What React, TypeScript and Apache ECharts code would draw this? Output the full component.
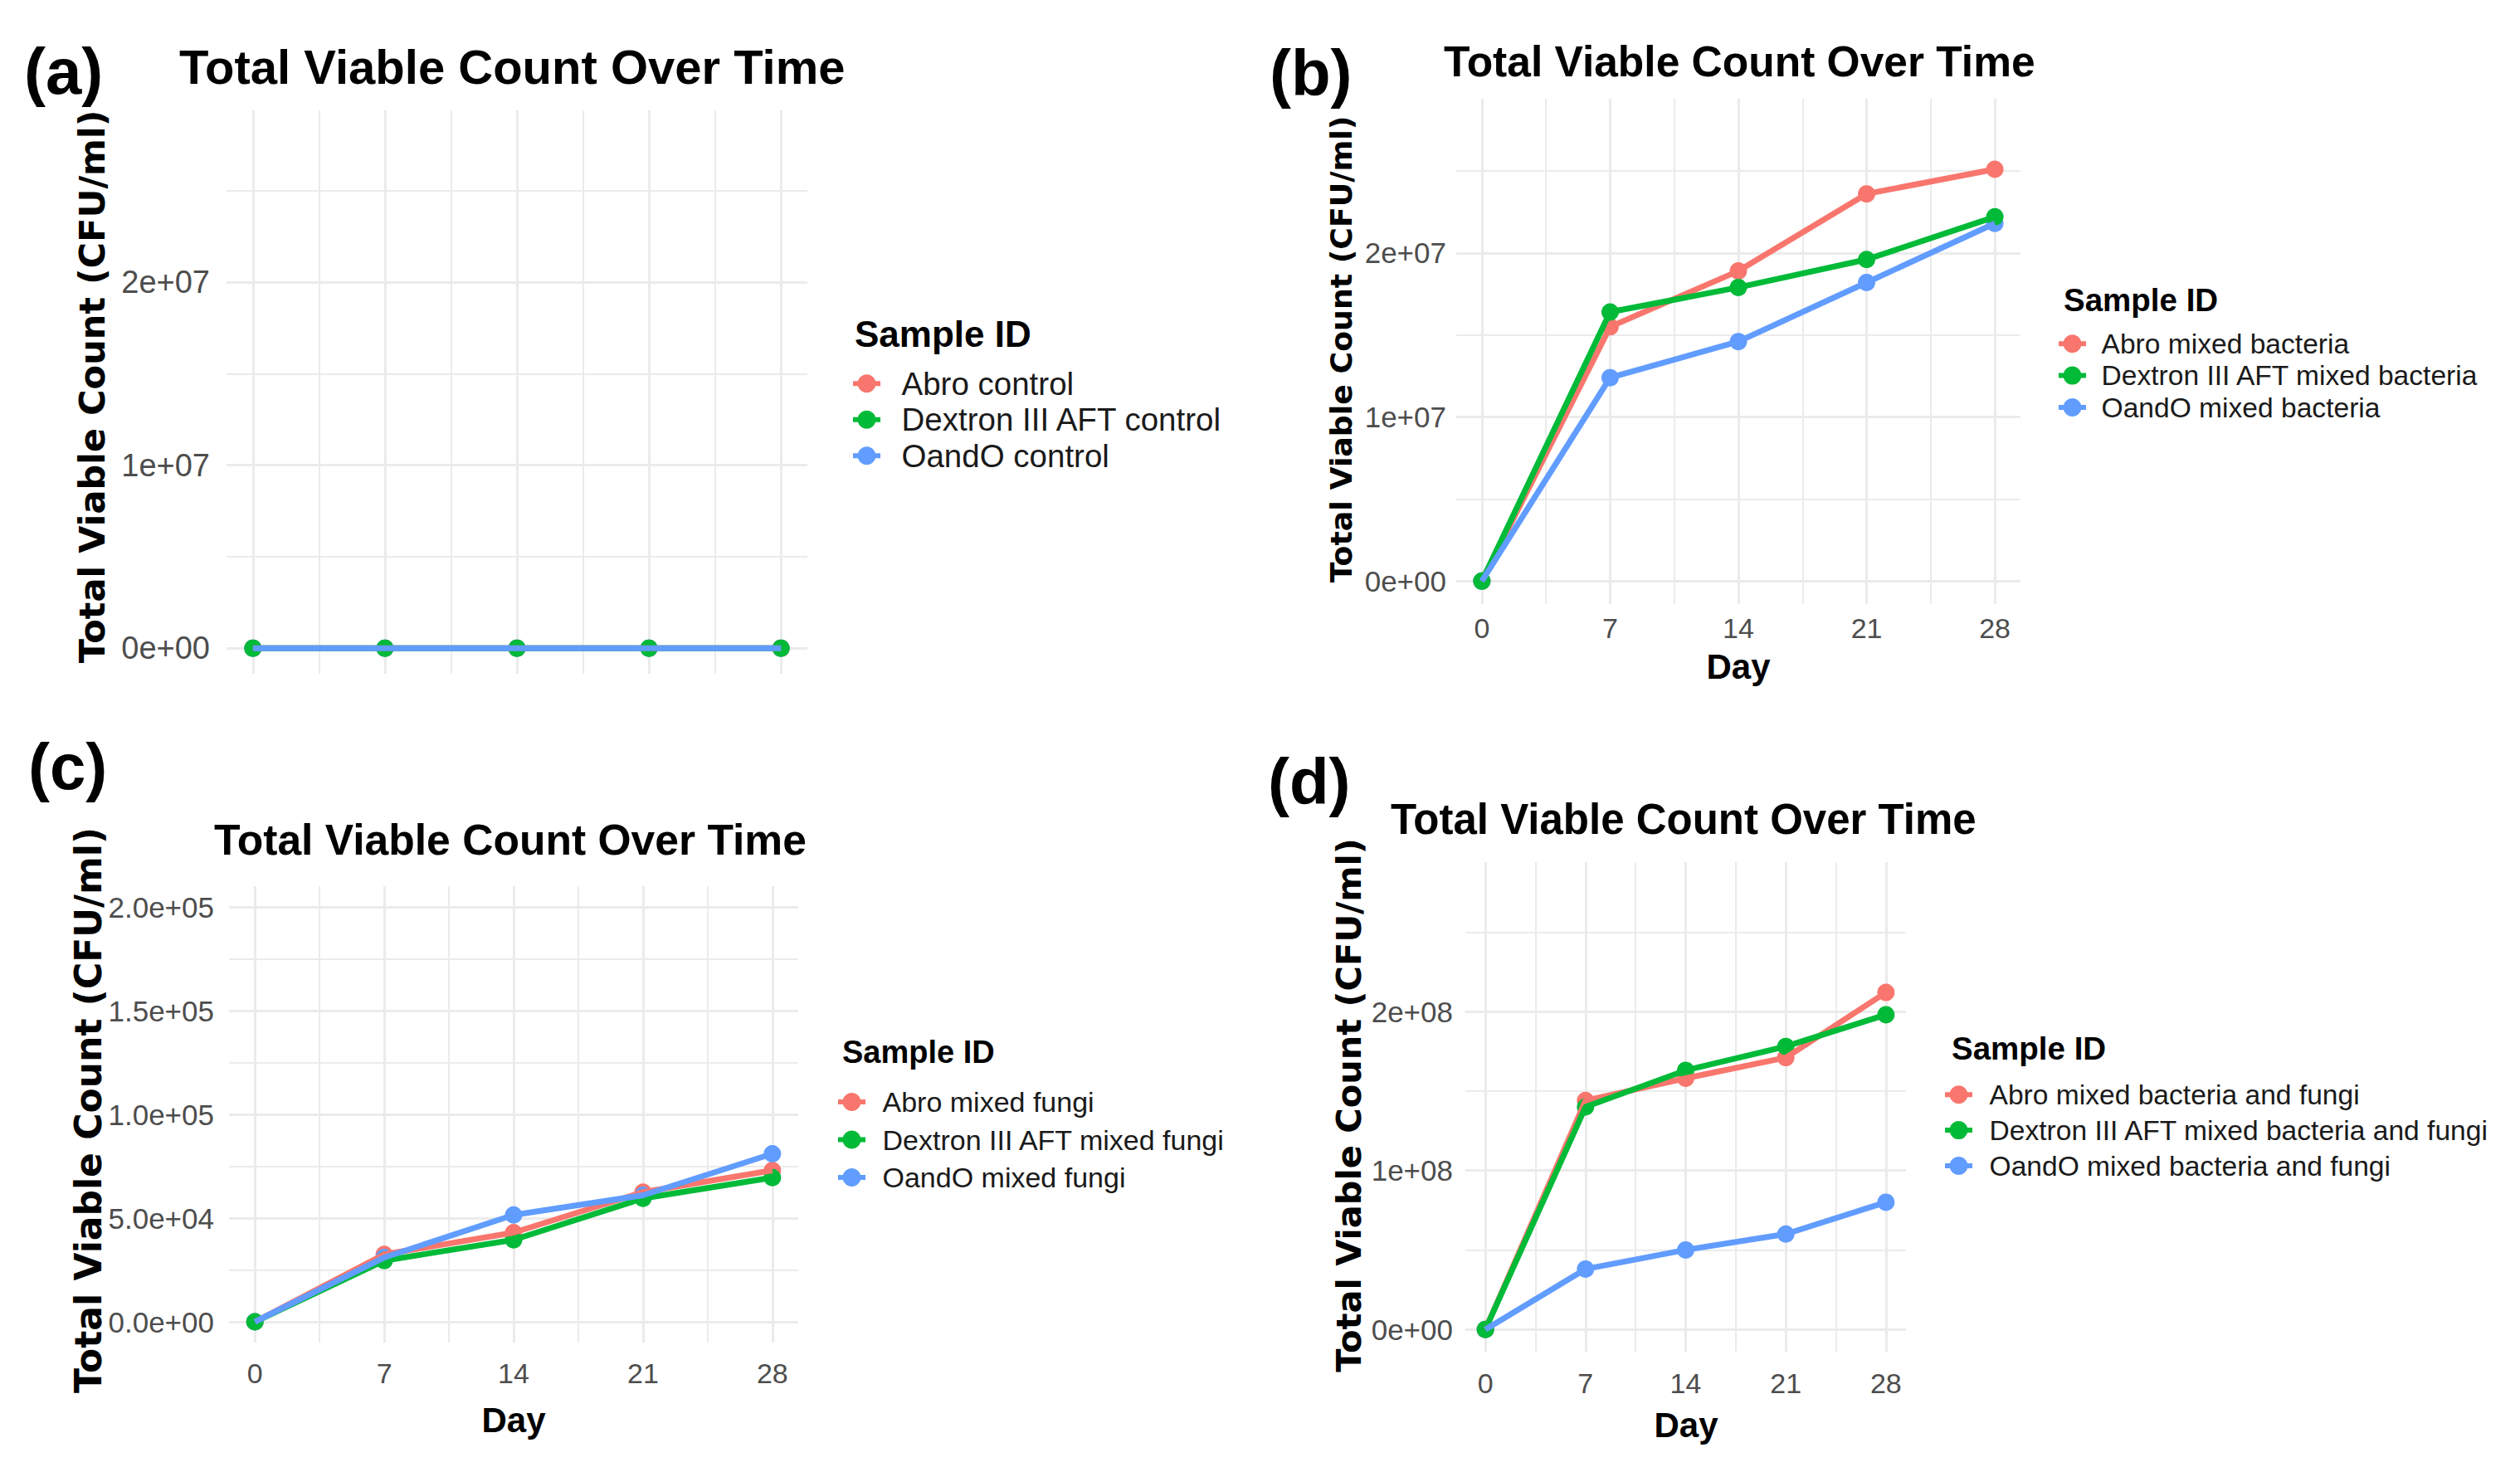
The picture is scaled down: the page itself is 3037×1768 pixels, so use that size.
import React, { useEffect, useRef } from 'react';
import * as echarts from 'echarts';

// ---------- data ----------
const days = [0, 7, 14, 21, 28];
const minorDays = [3.5, 10.5, 17.5, 24.5];
const dayLabels = ['0', '7', '14', '21', '28'];

const sampleColors = ['#F8766D', '#00BA38', '#619CFF'];

// (a) controls
const namesA = ['Abro control', 'Dextron III AFT control', 'OandO control'];
const abroA = [0, 0, 0, 0, 0];
const dextronA = [0, 0, 0, 0, 0];
const oandoA = [0, 0, 0, 0, 0];
const yTicksA = [0, 1e7, 2e7];
const yTickLabelsA = ['0e+00', '1e+07', '2e+07'];
const yMinorA = [5e6, 1.5e7, 2.5e7];

// (b) mixed bacteria
const namesB = ['Abro mixed bacteria', 'Dextron III AFT mixed bacteria', 'OandO mixed bacteria'];
const abroB = [0, 15.5e6, 18.9e6, 23.6e6, 25.1e6];
const dextronB = [0, 16.4e6, 17.9e6, 19.6e6, 22.2e6];
const oandoB = [0, 12.4e6, 14.6e6, 18.2e6, 21.8e6];
const yTicksB = [0, 1e7, 2e7];
const yTickLabelsB = ['0e+00', '1e+07', '2e+07'];
const yMinorB = [5e6, 1.5e7, 2.5e7];

// (c) mixed fungi
const namesC = ['Abro mixed fungi', 'Dextron III AFT mixed fungi', 'OandO mixed fungi'];
const abroC = [0, 3.25e4, 4.3e4, 6.25e4, 7.3e4];
const dextronC = [0, 2.95e4, 3.95e4, 5.95e4, 6.95e4];
const oandoC = [0, 3.1e4, 5.15e4, 6.1e4, 8.1e4];
const yTicksC = [0, 5e4, 1e5, 1.5e5, 2e5];
const yTickLabelsC = ['0.0e+00', '5.0e+04', '1.0e+05', '1.5e+05', '2.0e+05'];
const yMinorC = [2.5e4, 7.5e4, 1.25e5, 1.75e5];

// (d) mixed bacteria and fungi
const namesD = ['Abro mixed bacteria and fungi', 'Dextron III AFT mixed bacteria and fungi', 'OandO mixed bacteria and fungi'];
const abroD = [0, 14.4e7, 15.8e7, 17.1e7, 21.2e7];
const dextronD = [0, 14.0e7, 16.3e7, 17.8e7, 19.8e7];
const oandoD = [0, 3.8e7, 5.0e7, 6.0e7, 8.0e7];
const yTicksD = [0, 1e8, 2e8];
const yTickLabelsD = ['0e+00', '1e+08', '2e+08'];
const yMinorD = [5e7, 1.5e8, 2.5e8];

const panelLetters = ['(a)', '(b)', '(c)', '(d)'];
const titleText = 'Total Viable Count Over Time';
const yTitleText = 'Total Viable Count (CFU/ml)';
const xTitleText = 'Day';
const legendTitleText = 'Sample ID';

// ---------- layout (pixels) ----------
const layouts = [
  {
    grid: { left: 273, top: 133, width: 700, height: 679 }, yMin: -1.4e6, yMax: 29.4e6,
    showX: false, xLabelY: 0, yTickSize: 38, yLabelMargin: 20,
    letter: { x: 29, y: 86 }, title: { x: 216, y: 80, size: 58 }, yTitle: { x: 111, y: 466, size: 43 },
    day: null as null | { x: number; y: number },
    legend: { titleX: 1030, titleY: 402, titleSize: 44, iconX: 1065, textX: 1107, y0: 462, gap: 43, size: 38.5 },
  },
  {
    grid: { left: 1755, top: 119, width: 680, height: 609 }, yMin: -1.4e6, yMax: 29.4e6,
    showX: true, xLabelY: 757, yTickSize: 35, yLabelMargin: 12,
    letter: { x: 1530, y: 88 }, title: { x: 1740, y: 74, size: 51.5 }, yTitle: { x: 1616, y: 421, size: 36.3 },
    day: { x: 2095, y: 803 },
    legend: { titleX: 2487, titleY: 361, titleSize: 38.5, iconX: 2511, textX: 2546, y0: 414, gap: 38, size: 33.6 },
  },
  {
    grid: { left: 276, top: 1068, width: 686, height: 550 }, yMin: -1e4, yMax: 2.1e5,
    showX: true, xLabelY: 1655, yTickSize: 35, yLabelMargin: 18,
    letter: { x: 34, y: 924 }, title: { x: 258, y: 1012, size: 51.6 }, yTitle: { x: 106, y: 1338, size: 44 },
    day: { x: 619, y: 1711 },
    legend: { titleX: 1015, titleY: 1268, titleSize: 38, iconX: 1042, textX: 1079, y0: 1328, gap: 45.5, size: 34 },
  },
  {
    grid: { left: 1766, top: 1039, width: 531, height: 590 }, yMin: -1.4e7, yMax: 2.94e8,
    showX: true, xLabelY: 1667, yTickSize: 35, yLabelMargin: 15,
    letter: { x: 1528, y: 942 }, title: { x: 1676, y: 987, size: 51 }, yTitle: { x: 1625, y: 1332, size: 41.5 },
    day: { x: 2032, y: 1717 },
    legend: { titleX: 2352, titleY: 1263, titleSize: 38.5, iconX: 2376, textX: 2413, y0: 1319, gap: 42.5, size: 33.6 },
  },
];

const SANS = "'Liberation Sans', Arial, Helvetica, sans-serif";
const WIDE = "'DejaVu Sans', Verdana, sans-serif";
const TICK_COLOR = '#4D4D4D';
const GRID_COLOR = '#EBEBEB';
const LEGEND_ICON = 'path://M0,8L5.92,8A11,11,0,0,1,27.08,8L33,8L33,14L27.08,14A11,11,0,0,1,5.92,14L0,14Z';

function buildOption() {
  const panels = [
    { names: namesA, values: [abroA, dextronA, oandoA], yTicks: yTicksA, yLabels: yTickLabelsA, yMinor: yMinorA },
    { names: namesB, values: [abroB, dextronB, oandoB], yTicks: yTicksB, yLabels: yTickLabelsB, yMinor: yMinorB },
    { names: namesC, values: [abroC, dextronC, oandoC], yTicks: yTicksC, yLabels: yTickLabelsC, yMinor: yMinorC },
    { names: namesD, values: [abroD, dextronD, oandoD], yTicks: yTicksD, yLabels: yTickLabelsD, yMinor: yMinorD },
  ];

  const grids: any[] = [];
  const xAxes: any[] = [];
  const yAxes: any[] = [];
  const series: any[] = [];
  const legends: any[] = [];
  const graphics: any[] = [];

  panels.forEach((p, i) => {
    const L = layouts[i];
    const gb = L.grid.top + L.grid.height;
    grids.push({ ...L.grid, containLabel: false, outerBoundsMode: 'none', show: false });
    xAxes.push({
      gridIndex: i, type: 'value', min: -1.4, max: 29.4,
      axisLine: { show: false }, axisTick: { show: false }, splitLine: { show: false },
      axisLabel: {
        show: L.showX, customValues: days,
        formatter: (v: number) => { const k = days.indexOf(v); return k >= 0 ? dayLabels[k] : ''; },
        fontSize: 34, fontFamily: SANS, color: TICK_COLOR,
        margin: Math.max(0, L.xLabelY - 17 - gb),
      },
    });
    yAxes.push({
      gridIndex: i, type: 'value', min: L.yMin, max: L.yMax,
      axisLine: { show: false }, axisTick: { show: false }, splitLine: { show: false },
      axisLabel: {
        customValues: p.yTicks,
        formatter: (v: number) => { const k = p.yTicks.indexOf(v); return k >= 0 ? p.yLabels[k] : ''; },
        fontSize: L.yTickSize, fontFamily: SANS, color: TICK_COLOR, margin: L.yLabelMargin,
      },
    });

    // grid lines (major + minor) drawn from the axes' scales
    const gl: any[] = [];
    days.forEach((d) => gl.push({ xAxis: d, lineStyle: { color: GRID_COLOR, width: 3, type: 'solid' } }));
    minorDays.forEach((d) => gl.push({ xAxis: d, lineStyle: { color: GRID_COLOR, width: 2, type: 'solid' } }));
    p.yTicks.forEach((v) => gl.push({ yAxis: v, lineStyle: { color: GRID_COLOR, width: 3, type: 'solid' } }));
    p.yMinor.forEach((v) => gl.push({ yAxis: v, lineStyle: { color: GRID_COLOR, width: 2, type: 'solid' } }));
    series.push({
      type: 'line', name: 'grid-' + i, xAxisIndex: i, yAxisIndex: i, data: [], silent: true, z: 1,
      markLine: {
        z: 1, silent: true, symbol: ['none', 'none'], label: { show: false },
        emphasis: { disabled: true }, animation: false, data: gl,
      },
    });

    // points first (red, blue, green), then lines (red, green, blue)
    [0, 2, 1].forEach((k) => {
      series.push({
        type: 'scatter', name: p.names[k], xAxisIndex: i, yAxisIndex: i,
        data: days.map((d, j) => [d, p.values[k][j]]),
        symbol: 'circle', symbolSize: 21, z: 2,
        itemStyle: { color: sampleColors[k], opacity: 1 },
      });
    });
    [0, 1, 2].forEach((k) => {
      series.push({
        type: 'line', name: p.names[k], xAxisIndex: i, yAxisIndex: i,
        data: days.map((d, j) => [d, p.values[k][j]]),
        showSymbol: false, symbol: 'none', z: 3,
        lineStyle: { width: 7, color: sampleColors[k] },
        itemStyle: { color: sampleColors[k] },
      });
    });

    // legend
    const lg = L.legend;
    const itemH = 22;
    const itemW = 2 * (lg.textX - lg.iconX - 5);
    legends.push({
      orient: 'vertical', left: lg.iconX - itemW / 2, top: lg.y0 - lg.size / 2, padding: 0,
      itemWidth: itemW, itemHeight: itemH, itemGap: lg.gap - lg.size,
      symbolKeepAspect: true,
      data: p.names.map((n) => ({ name: n, icon: LEGEND_ICON })),
      itemStyle: { borderWidth: 0 },
      textStyle: { fontSize: lg.size, fontFamily: SANS, color: '#1A1A1A' },
    });
    graphics.push({
      type: 'text', x: lg.titleX, y: lg.titleY, silent: true,
      style: { text: legendTitleText, fontSize: lg.titleSize, fontWeight: 'bold', fontFamily: SANS, fill: '#000', textAlign: 'left', textVerticalAlign: 'middle' },
    });

    // panel letter, title, axis titles
    graphics.push({
      type: 'text', x: L.letter.x, y: L.letter.y, silent: true,
      style: { text: panelLetters[i], fontSize: 78, fontWeight: 'bold', fontFamily: SANS, fill: '#000', textAlign: 'left', textVerticalAlign: 'middle' },
    });
    graphics.push({
      type: 'text', x: L.title.x, y: L.title.y, silent: true,
      style: { text: titleText, fontSize: L.title.size, fontWeight: 'bold', fontFamily: SANS, fill: '#000', textAlign: 'left', textVerticalAlign: 'middle' },
    });
    graphics.push({
      type: 'text', x: L.yTitle.x, y: L.yTitle.y, rotation: Math.PI / 2, silent: true,
      style: { text: yTitleText, fontSize: L.yTitle.size, fontWeight: 'bold', fontFamily: WIDE, fill: '#000', textAlign: 'center', textVerticalAlign: 'middle' },
    });
    if (L.day) {
      graphics.push({
        type: 'text', x: L.day.x, y: L.day.y, silent: true,
        style: { text: xTitleText, fontSize: 42, fontWeight: 'bold', fontFamily: SANS, fill: '#000', textAlign: 'center', textVerticalAlign: 'middle' },
      });
    }
  });

  return {
    animation: false,
    backgroundColor: '#FFFFFF',
    grid: grids,
    xAxis: xAxes,
    yAxis: yAxes,
    legend: legends,
    series,
    graphic: graphics,
  };
}

export default function App() {
  const ref = useRef<HTMLDivElement>(null);
  useEffect(() => {
    document.body.style.margin = '0';
    const chart = echarts.init(ref.current!, null, { renderer: 'svg' });
    chart.setOption(buildOption() as any);
    return () => chart.dispose();
  }, []);
  return <div ref={ref} style={{ width: 3037, height: 1768, background: '#fff' }} />;
}
